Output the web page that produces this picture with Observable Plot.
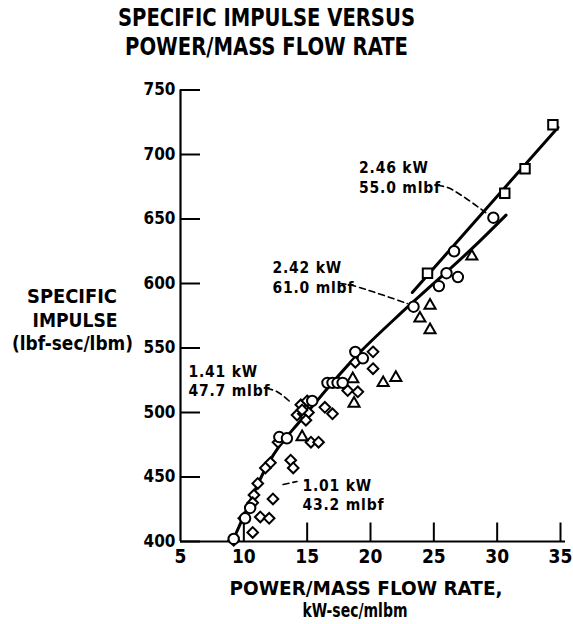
<!DOCTYPE html>
<html><head><meta charset="utf-8">
<script src="https://cdn.jsdelivr.net/npm/d3@7"></script>
<script src="https://cdn.jsdelivr.net/npm/@observablehq/plot@0.6"></script>
<style>
body{margin:0;background:#fff;}
#chart{width:573px;height:624px;}
</style></head><body><div id="chart"></div>
<script>
const FONT = "'Liberation Sans Narrow','DejaVu Sans Condensed','Arial Narrow',sans-serif";

// axis ticks
const xTickLabels = [5, 10, 15, 20, 25, 30, 35];
const xTickMarks = [10, 15, 20, 25, 30, 35];
const yTickLabels = [400, 450, 500, 550, 600, 650, 700, 750];

// data series: [power/mass flow rate (kW-sec/mlbm), specific impulse (lbf-sec/lbm)]
const squares = [[34.4, 723], [32.2, 689], [30.6, 670], [24.5, 608]];
const circles = [
  [29.7, 651], [26.6, 625], [26.0, 608], [26.9, 605], [25.4, 598], [23.4, 582],
  [18.8, 547], [19.4, 542], [16.6, 523], [17.0, 523], [17.4, 523], [17.8, 523],
  [15.4, 509], [12.8, 481], [13.4, 480], [10.5, 426], [10.1, 418], [9.2, 402]
];
const diamonds = [
  [20.2, 547], [18.8, 539], [20.2, 534], [18.2, 517], [19.0, 516], [16.4, 504],
  [17.0, 499], [14.5, 506], [15.0, 509], [14.2, 498], [14.7, 499], [15.1, 500],
  [14.9, 494], [14.6, 502], [15.3, 477], [15.9, 477], [13.7, 463], [13.9, 457],
  [12.7, 477], [12.1, 461], [11.7, 457], [11.1, 445], [10.8, 436], [10.7, 430],
  [10.0, 418], [9.2, 401], [12.3, 433], [11.3, 419], [12.0, 418], [10.7, 407]
];
const triangles = [
  [28.0, 621], [24.7, 583], [23.9, 573], [24.7, 564], [21.0, 523], [22.0, 527],
  [18.6, 526], [18.7, 507], [14.6, 481]
];

// fitted curves
const fitUpper = [[23.3, 593], [34.8, 721]];
const fitLower = [
  [9.1, 400], [10.05, 421], [10.9, 440], [11.9, 460], [12.8, 474], [14.5, 494],
  [16.8, 521], [19.2, 547], [22.4, 577], [27.9, 626], [30.7, 653]
];

// annotations
const annotations = [
  {x: 19.1, y: 686, text: "2.46 kW"}, {x: 19.1, y: 670.5, text: "55.0 mlbf"},
  {x: 12.26, y: 608.5, text: "2.42 kW"}, {x: 12.26, y: 593, text: "61.0 mlbf"},
  {x: 5.63, y: 527.5, text: "1.41 kW"}, {x: 5.63, y: 512.5, text: "47.7 mlbf"},
  {x: 14.63, y: 439.5, text: "1.01 kW"}, {x: 14.63, y: 424.5, text: "43.2 mlbf"}
];
const leaders = [
  {g: "a", x: 25.3, y: 676}, {g: "a", x: 26.2, y: 674}, {g: "a", x: 29.1, y: 655},
  {g: "b", x: 17.6, y: 600}, {g: "b", x: 18.6, y: 598.4}, {g: "b", x: 22.9, y: 584.5},
  {g: "c", x: 11.8, y: 518.6}, {g: "c", x: 12.6, y: 516.3}, {g: "c", x: 13.8, y: 507},
  {g: "d", x: 13.1, y: 444.2}, {g: "d", x: 14.2, y: 446.5}
];

const px = d => d[0], py = d => d[1];
const dotStyle = {x: px, y: py, fill: "white", stroke: "black", strokeWidth: 2};

const chart = Plot.plot({
  width: 573, height: 624,
  marginTop: 89.5, marginBottom: 83, marginLeft: 180, marginRight: 13,
  style: {fontFamily: FONT, fontWeight: "bold", color: "black", background: "white"},
  x: {domain: [5, 35]},
  y: {domain: [400, 750]},
  marks: [
    Plot.ruleX([5], {stroke: "black", strokeWidth: 2.2}),
    Plot.ruleY([400], {stroke: "black", strokeWidth: 2.2, insetRight: -5}),
    Plot.tickY(yTickLabels, {y: d => d, stroke: "black", strokeWidth: 2, insetRight: 360}),
    Plot.tickX(xTickMarks, {x: d => d, stroke: "black", strokeWidth: 2, insetTop: 433}),
    Plot.axisY(yTickLabels, {tickSize: 0, tickPadding: 5, fontSize: 17, label: null}),
    Plot.axisX(xTickLabels, {tickSize: 0, tickPadding: 8, fontSize: 19, label: null}),
    Plot.line(fitLower, {x: px, y: py, curve: "catmull-rom", stroke: "black", strokeWidth: 3}),
    Plot.line(fitUpper, {x: px, y: py, stroke: "black", strokeWidth: 3}),
    Plot.line(leaders, {x: "x", y: "y", z: "g", stroke: "black", strokeWidth: 1.6, strokeDasharray: "6,4", curve: "catmull-rom"}),
    Plot.dot(diamonds, {...dotStyle, symbol: "diamond2", r: 4.8}),
    Plot.dot(triangles, {...dotStyle, symbol: "triangle2", r: 5.3}),
    Plot.dot(circles, {...dotStyle, symbol: "circle", r: 5.2}),
    Plot.dot(squares, {...dotStyle, symbol: "square2", r: 6}),
    Plot.text(annotations, {x: "x", y: "y", text: "text", textAnchor: "start", lineAnchor: "bottom", fontSize: 15.5, fill: "black"})
  ]
});
document.getElementById("chart").appendChild(chart);

// slightly wider letter spacing on annotation labels, as in the original
const annoTexts = new Set(annotations.map(d => d.text));
d3.select(chart).selectAll("text")
  .filter(function() { return annoTexts.has(this.textContent); })
  .attr("letter-spacing", "0.8px");

// titles and axis titles
const extra = [
  {t: "SPECIFIC IMPULSE VERSUS", x: 266.5, y: 26, size: 25, len: 297},
  {t: "POWER/MASS FLOW RATE", x: 266.5, y: 55, size: 25, len: 283},
  {t: "SPECIFIC", x: 72, y: 303, size: 20, len: 90},
  {t: "IMPULSE", x: 75, y: 327, size: 20, len: 85},
  {t: "(lbf-sec/lbm)", x: 72.5, y: 350, size: 20, len: 121},
  {t: "POWER/MASS FLOW RATE,", x: 366, y: 595, size: 19.5, len: 273},
  {t: "kW-sec/mlbm", x: 355, y: 617, size: 19.5, len: 105}
];
d3.select(chart).append("g").selectAll("text").data(extra).join("text")
  .attr("x", d => d.x).attr("y", d => d.y)
  .attr("text-anchor", "middle")
  .attr("font-size", d => d.size)
  .attr("font-weight", "bold")
  .attr("font-family", FONT)
  .attr("fill", "black")
  .attr("textLength", d => d.len)
  .attr("lengthAdjust", "spacingAndGlyphs")
  .text(d => d.t);
</script></body></html>
